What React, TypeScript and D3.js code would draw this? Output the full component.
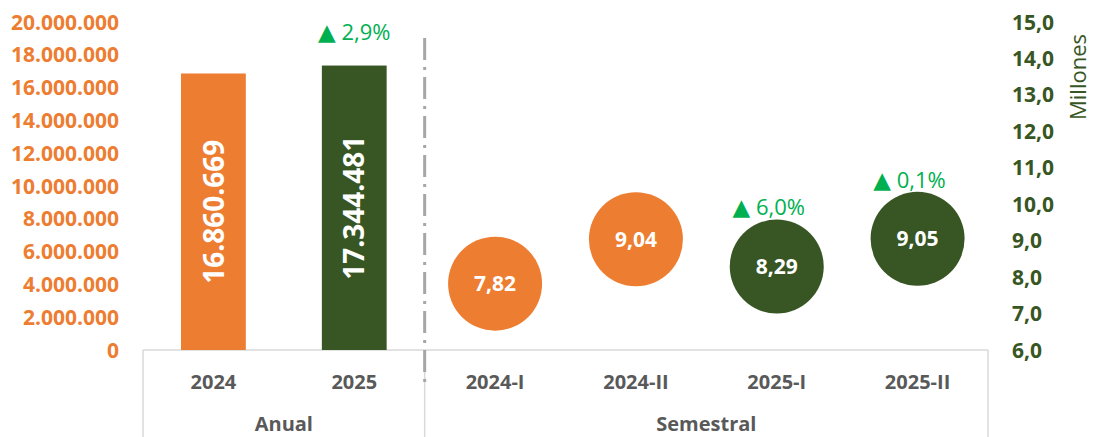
import React, { useRef, useEffect } from "react";
import * as d3 from "d3";

const categories = ["2024", "2025", "2024-I", "2024-II", "2025-I", "2025-II"];
const groups = [
  { label: "Anual", from: "2024", to: "2025" },
  { label: "Semestral", from: "2024-I", to: "2025-II" },
];
const annualCats = ["2024", "2025"];
const annualValues = [16860669, 17344481];
const semCats = ["2024-I", "2024-II", "2025-I", "2025-II"];
const semValues = [7.82, 9.04, 8.29, 9.05]; // millones
const growthLabels = [
  { cat: "2025", text: "2,9%", axis: "left", value: 17344481 },
  { cat: "2025-I", text: "6,0%", axis: "right", value: 8.29 },
  { cat: "2025-II", text: "0,1%", axis: "right", value: 9.05 },
];
const leftTicks = d3.range(0, 20000001, 2000000);
const rightTicks = d3.range(6, 15.01, 1);

const ORANGE = "#ED7D31";
const GREEN = "#375623";
const UP = "#00B050";
const GRAY_TEXT = "#595959";
const LINE = "#D9D9D9";
const FONT = "'Open Sans', 'Noto Sans', sans-serif";

const fmtThousands = (v: number) =>
  d3.format(",.0f")(v).replace(/,/g, ".");
const fmtDec = (digits: number) => (v: number) =>
  v.toFixed(digits).replace(".", ",");

export default function App() {
  const svgRef = useRef<SVGSVGElement>(null);
  const width = 1094;
  const height = 437;

  useEffect(() => {
    if (!svgRef.current) return;
    const svg = d3.select(svgRef.current);
    svg.selectAll("*").remove();

    const left = 143;
    const right = 988;
    const top = 22;
    const bottom = 350;

    const x = d3
      .scaleBand()
      .domain(categories)
      .range([left, right])
      .paddingInner(0.54)
      .paddingOuter(0.27);
    const cx = (c: string) => (x(c) ?? 0) + x.bandwidth() / 2;
    const step = x.step();

    const yL = d3.scaleLinear().domain([0, 20000000]).range([bottom, top]);
    const yR = d3.scaleLinear().domain([6, 15]).range([bottom, top]);

    // left axis labels
    svg
      .append("g")
      .selectAll("text")
      .data(leftTicks)
      .join("text")
      .attr("x", 119)
      .attr("y", (d) => yL(d))
      .attr("dy", "0.36em")
      .attr("text-anchor", "end")
      .style("font-family", FONT)
      .style("font-size", "21px")
      .style("font-weight", "700")
      .style("fill", ORANGE)
      .text((d) => fmtThousands(d));

    // right axis labels
    svg
      .append("g")
      .selectAll("text")
      .data(rightTicks)
      .join("text")
      .attr("x", 1012)
      .attr("y", (d) => yR(d))
      .attr("dy", "0.36em")
      .attr("text-anchor", "start")
      .style("font-family", FONT)
      .style("font-size", "21px")
      .style("font-weight", "700")
      .style("fill", GREEN)
      .text((d) => fmtDec(1)(d));

    svg
      .append("text")
      .attr("transform", "translate(1078,77) rotate(-90)")
      .attr("dy", "0.36em")
      .attr("text-anchor", "middle")
      .style("font-family", FONT)
      .style("font-size", "22px")
      .style("fill", GREEN)
      .text("Millones");

    // category axis box
    const axis = svg.append("g").style("stroke", LINE).style("stroke-width", 1.5);
    axis
      .append("line")
      .attr("x1", left)
      .attr("x2", right)
      .attr("y1", bottom)
      .attr("y2", bottom);
    const boundaries = [left, ...groups.map((g) => cx(g.to) + step / 2)];
    axis
      .selectAll(".sep")
      .data(boundaries)
      .join("line")
      .attr("x1", (d) => d)
      .attr("x2", (d) => d)
      .attr("y1", bottom)
      .attr("y2", height);

    svg
      .append("g")
      .selectAll("text")
      .data(categories)
      .join("text")
      .attr("x", (d) => cx(d))
      .attr("y", 382)
      .attr("dy", "0.36em")
      .attr("text-anchor", "middle")
      .style("font-family", FONT)
      .style("font-size", "20px")
      .style("font-weight", "700")
      .style("fill", GRAY_TEXT)
      .text((d) => d);

    svg
      .append("g")
      .selectAll("text")
      .data(groups)
      .join("text")
      .attr("x", (d) => (cx(d.from) - step / 2 + cx(d.to) + step / 2) / 2)
      .attr("y", 424)
      .attr("dy", "0.36em")
      .attr("text-anchor", "middle")
      .style("font-family", FONT)
      .style("font-size", "20px")
      .style("font-weight", "700")
      .style("fill", GRAY_TEXT)
      .text((d) => d.label);

    // dash-dot divider
    const divX = cx("2025") + step / 2;
    svg
      .append("line")
      .attr("x1", divX)
      .attr("x2", divX)
      .attr("y1", 38)
      .attr("y2", 382)
      .style("stroke", "#A6A6A6")
      .style("stroke-width", 3)
      .style("stroke-dasharray", "22,7,3,7");

    // annual bars
    const bars = annualCats.map((c, i) => ({ c, v: annualValues[i] }));
    svg
      .append("g")
      .selectAll("rect")
      .data(bars)
      .join("rect")
      .attr("x", (d) => x(d.c) ?? 0)
      .attr("y", (d) => yL(d.v))
      .attr("width", x.bandwidth())
      .attr("height", (d) => bottom - yL(d.v))
      .attr("fill", (d, i) => (i === 0 ? ORANGE : GREEN));

    svg
      .append("g")
      .selectAll("text")
      .data(bars)
      .join("text")
      .attr(
        "transform",
        (d) => `translate(${cx(d.c)},${(yL(d.v) + bottom) / 2}) rotate(-90)`
      )
      .attr("dy", "0.36em")
      .attr("text-anchor", "middle")
      .style("font-family", FONT)
      .style("font-size", "28px")
      .style("font-weight", "700")
      .style("fill", "#ffffff")
      .text((d) => fmtThousands(d.v));

    // semester bubbles
    const bubbles = semCats.map((c, i) => ({ c, v: semValues[i] }));
    const r = 47;
    svg
      .append("g")
      .selectAll("circle")
      .data(bubbles)
      .join("circle")
      .attr("cx", (d) => cx(d.c))
      .attr("cy", (d) => yR(d.v))
      .attr("r", r)
      .attr("fill", (d) => (d.c.startsWith("2024") ? ORANGE : GREEN));

    svg
      .append("g")
      .selectAll("text")
      .data(bubbles)
      .join("text")
      .attr("x", (d) => cx(d.c))
      .attr("y", (d) => yR(d.v))
      .attr("dy", "0.36em")
      .attr("text-anchor", "middle")
      .style("font-family", FONT)
      .style("font-size", "21px")
      .style("font-weight", "700")
      .style("fill", "#ffffff")
      .text((d) => fmtDec(2)(d.v));

    // growth annotations
    const ann = svg
      .append("g")
      .selectAll("text")
      .data(growthLabels)
      .join("text")
      .attr("x", (d) => cx(d.cat) - (d.axis === "left" ? 0 : 8))
      .attr("y", (d) =>
        d.axis === "left" ? yL(d.value) - 33 : yR(d.value) - r - 12
      )
      .attr("dy", "0.36em")
      .attr("text-anchor", "middle")
      .style("font-family", FONT)
      .style("font-size", "22px")
      .style("fill", UP);
    ann
      .append("tspan")
      .style("font-family", "'DejaVu Sans', sans-serif")
      .style("font-size", "23px")
      .text("▲");
    ann.append("tspan").text((d) => "\u00a0" + d.text);
  }, []);

  return (
    <svg
      ref={svgRef}
      width={width}
      height={height}
      style={{ position: "absolute", left: 0, top: 0, background: "#fff" }}
    />
  );
}
